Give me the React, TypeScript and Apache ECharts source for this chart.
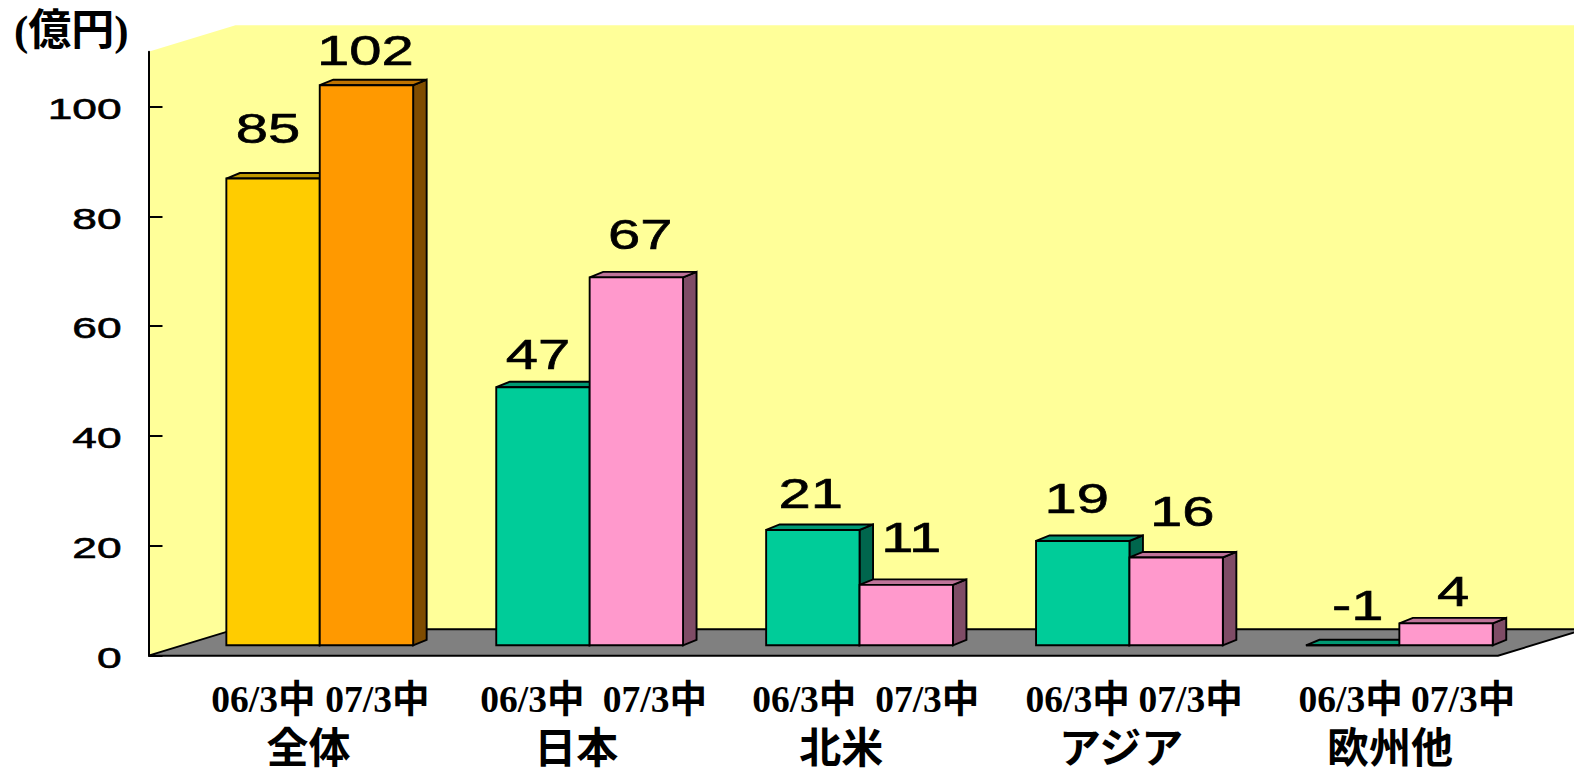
import React, { useEffect, useRef } from "react";
import * as echarts from "echarts";

const categories = ["全体", "日本", "北米", "アジア", "欧州他"];
const values2006 = [85, 47, 21, 19, -1];
const values2007 = [102, 67, 11, 16, 4];
const periodLabels = ["06/3中", "07/3中"];
const tickValues = [0, 20, 40, 60, 80, 100];
const unitLabel = "(億円)";

const colors2006 = [
  { front: "#FFCC00", top: "#BF9900", side: "#7F6600" },
  { front: "#00CC99", top: "#009973", side: "#00664D" },
  { front: "#00CC99", top: "#009973", side: "#00664D" },
  { front: "#00CC99", top: "#009973", side: "#00664D" },
  { front: "#00CC99", top: "#009973", side: "#00664D" },
];
const colors2007 = [
  { front: "#FF9900", top: "#BF7300", side: "#7F4C00" },
  { front: "#FF99CC", top: "#BF7399", side: "#7F4C66" },
  { front: "#FF99CC", top: "#BF7399", side: "#7F4C66" },
  { front: "#FF99CC", top: "#BF7399", side: "#7F4C66" },
  { front: "#FF99CC", top: "#BF7399", side: "#7F4C66" },
];

// layout constants
const WALL_DX = 87;
const WALL_DY = -26.5;
const BAR_DX = 36.3;
const BAR_DY = -10.4;
const DEPTH_DX = 13.5;
const DEPTH_DY = -5.5;
const BAR_W = 93.4;
const LINE = 1.9;
const STRETCH = 1.38;
const SANS = '"Liberation Sans", Arial, sans-serif';
const SERIF_CJK = '"Liberation Serif", "Noto Sans CJK JP", serif';
const CJK = '"Noto Sans CJK JP", sans-serif';

const valueLabelOffsets2006 = [[-5, -50], [-5, -33], [-2, -37], [-6, -42], [5, -40]];
const valueLabelOffsets2007 = [[-1, -35], [4, -43], [5, -47], [6, -46], [7, -32]];
const periodLabelOffsets = [
  [[-20, 44], [94, 44]],
  [[-21, 44], [101.5, 44]],
  [[-19, 44], [104, 44]],
  [[-15.5, 44], [97.5, 44]],
  [[-12.5, 44], [100, 44]],
];
const categoryOffsets = [25, 23, 18, 28, 27];

const poly = (points: number[][], fill: string, stroke?: string) => ({
  type: "polygon",
  shape: { points },
  style: { fill, stroke: stroke || "none", lineWidth: LINE, lineJoin: "miter" },
});

function barRenderer(values: number[], palette: typeof colors2006, side: number, offsets: number[][]) {
  return (params: any, api: any) => {
    const i = api.value(0);
    const v = values[i];
    const base = api.coord([i, 0]);
    const tip = api.coord([i, Math.max(v, 0)]);
    const c = palette[i];
    const x0 = base[0] + BAR_DX + (side === 0 ? -BAR_W : 0);
    const x1 = x0 + BAR_W;
    const yB = base[1] + BAR_DY;
    const yT = tip[1] + BAR_DY;
    const off = offsets[i];
    return {
      type: "group",
      children: [
        poly([[x1, yT], [x1 + DEPTH_DX, yT + DEPTH_DY], [x1 + DEPTH_DX, yB + DEPTH_DY], [x1, yB]], c.side, "#000"),
        poly([[x0, yT], [x0 + DEPTH_DX, yT + DEPTH_DY], [x1 + DEPTH_DX, yT + DEPTH_DY], [x1, yT]], c.top, "#000"),
        poly([[x0, yT], [x1, yT], [x1, yB], [x0, yB]], c.front, "#000"),
        {
          type: "text",
          x: (x0 + x1) / 2 + off[0],
          y: yT + off[1],
          scaleX: STRETCH,
          z2: 10,
          style: {
            text: String(v),
            fontFamily: SANS,
            fontSize: 42,
            fill: "#000",
            stroke: "#000",
            lineWidth: 0.6,
            align: "center",
            verticalAlign: "middle",
          },
        },
      ],
    };
  };
}

export default function App() {
  const ref = useRef<HTMLDivElement>(null);
  useEffect(() => {
    document.body.style.margin = "0";
    document.body.style.overflow = "hidden";
    const chart = echarts.init(ref.current!, null, { renderer: "svg" });
    chart.setOption({
      animation: false,
      backgroundColor: "#fff",
      title: {
        text: unitLabel,
        left: 14,
        top: 9,
        padding: 0,
        textStyle: { fontFamily: SERIF_CJK, fontSize: 43, fontWeight: "bold", color: "#000" },
      },
      grid: { left: 148.5, right: 76, top: 51.7, bottom: 113.3 },
      xAxis: {
        type: "category",
        data: categories,
        axisLine: { show: false },
        axisTick: { show: false },
        axisLabel: { show: false },
      },
      yAxis: {
        type: "value",
        min: 0,
        max: 110,
        interval: 20,
        z: 2,
        splitLine: { show: false },
        axisLine: { show: true, lineStyle: { color: "#000", width: 2 } },
        axisTick: {
          show: true,
          inside: true,
          length: 14,
          customValues: tickValues,
          lineStyle: { color: "#000", width: 2 },
        },
        axisLabel: { show: false },
      },
      series: [
        {
          type: "custom",
          name: "wall",
          z: 1,
          silent: true,
          data: [[0]],
          renderItem: (params: any) => {
            const { x, y, width: w, height: h } = params.coordSys;
            const b = y + h;
            const r = x + w;
            return {
              type: "group",
              children: [
                poly([[x, y], [x + WALL_DX, y + WALL_DY], [r + WALL_DX, y + WALL_DY], [r + WALL_DX, b + WALL_DY], [x + WALL_DX, b + WALL_DY], [x, b]], "#FFFF99"),
                poly([[x, b], [x + WALL_DX, b + WALL_DY], [r + WALL_DX, b + WALL_DY], [r, b]], "#808080", "#000"),
              ],
            };
          },
        },
        {
          type: "custom",
          name: periodLabels[0],
          z: 3,
          data: categories.map((_, i) => [i, values2006[i]]),
          renderItem: barRenderer(values2006, colors2006, 0, valueLabelOffsets2006),
        },
        {
          type: "custom",
          name: periodLabels[1],
          z: 3,
          data: categories.map((_, i) => [i, values2007[i]]),
          renderItem: barRenderer(values2007, colors2007, 1, valueLabelOffsets2007),
        },
        {
          type: "custom",
          name: "ticks",
          z: 4,
          silent: true,
          data: tickValues.map((t) => [0, t]),
          renderItem: (params: any, api: any) => {
            const t = api.value(1);
            const p = api.coord([0, t]);
            return {
              type: "text",
              x: params.coordSys.x - 27,
              y: p[1] + 2,
              scaleX: 1.5,
              style: {
                text: String(t),
                fontFamily: SANS,
                fontSize: 29.5,
                fill: "#000",
                stroke: "#000",
                lineWidth: 0.6,
                align: "right",
                verticalAlign: "middle",
              },
            };
          },
        },
        {
          type: "custom",
          name: "categories",
          z: 4,
          silent: true,
          data: categories.map((_, i) => [i, 0]),
          renderItem: (params: any, api: any) => {
            const i = api.value(0);
            const p = api.coord([i, 0]);
            const lab = periodLabelOffsets[i];
            return {
              type: "group",
              children: [
                ...periodLabels.map((text, k) => ({
                  type: "text",
                  x: p[0] + lab[k][0],
                  y: p[1] + lab[k][1],
                  style: {
                    text,
                    fontFamily: SERIF_CJK,
                    fontSize: 37.5,
                    fontWeight: "bold",
                    fill: "#000",
                    align: "center",
                    verticalAlign: "middle",
                  },
                })),
                {
                  type: "text",
                  x: p[0] + categoryOffsets[i],
                  y: p[1] + 89,
                  style: {
                    text: categories[i],
                    fontFamily: CJK,
                    fontSize: 42,
                    fontWeight: "bold",
                    fill: "#000",
                    align: "center",
                    verticalAlign: "middle",
                  },
                },
              ],
            };
          },
        },
      ],
    });
    return () => chart.dispose();
  }, []);
  return <div ref={ref} style={{ width: 1574, height: 769 }} />;
}
